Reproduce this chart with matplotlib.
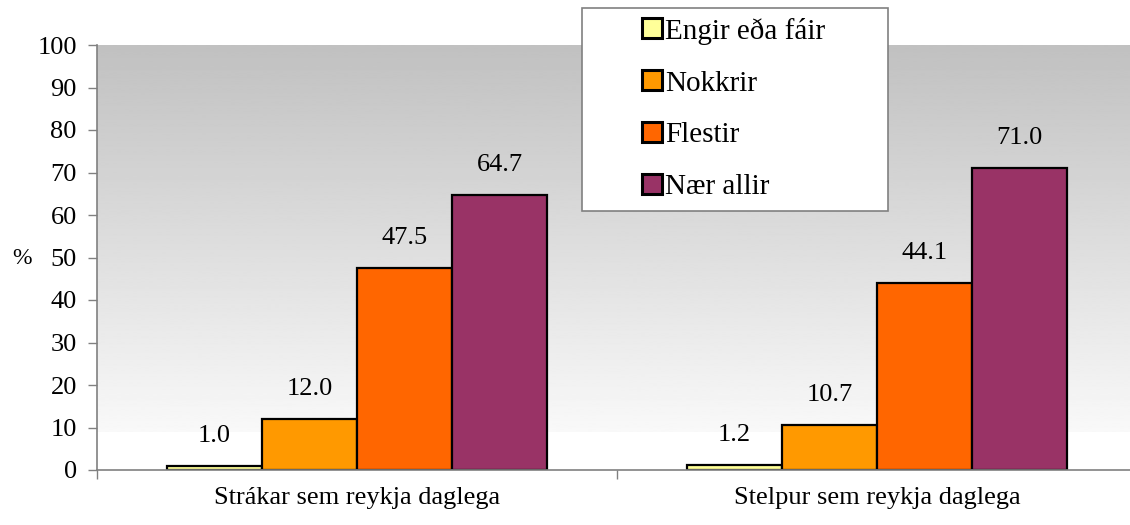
import matplotlib
matplotlib.use("Agg")
import matplotlib.pyplot as plt
import numpy as np
from matplotlib.patches import Rectangle

categories = ["Strákar sem reykja daglega", "Stelpur sem reykja daglega"]
series_names = ["Engir eða fáir", "Nokkrir", "Flestir", "Nær allir"]
values = {
    "Engir eða fáir": [1.0, 1.2],
    "Nokkrir": [12.0, 10.7],
    "Flestir": [47.5, 44.1],
    "Nær allir": [64.7, 71.0],
}
colors = ["#FFFF99", "#FF9900", "#FF6600", "#993366"]
yticks = list(range(0, 101, 10))

plt.rcParams['font.family'] = ['Liberation Serif', 'DejaVu Serif']

W, H = 1130, 525
fig = plt.figure(figsize=(W / 100, H / 100), dpi=100)
ax = fig.add_axes([97 / W, (H - 470) / H, (1137 - 97) / W, 425 / H])

# gradient background
grad = np.linspace(0.975, 0.755, 256).reshape(-1, 1)
ax.imshow(grad, extent=[-0.5, 1.5, 9, 100], origin='lower', aspect='auto',
          cmap='gray', vmin=0, vmax=1, zorder=0, interpolation='bilinear')

x = np.arange(len(categories))
bw = 95 / 520
n = len(series_names)
for i, (name, c) in enumerate(zip(series_names, colors)):
    offs = (i - (n - 1) / 2) * bw
    vals = values[name]
    ax.bar(x + offs, vals, width=bw, color=c, edgecolor='black',
           linewidth=1.6, label=name, zorder=2)
    for xi, v in zip(x + offs, vals):
        ax.annotate(f"{v:.1f}", (xi, v), xytext=(0, 21.5), textcoords='offset points',
                    ha='center', va='center', fontsize=19, color='black')

ax.set_xlim(-0.5, 1.5)
ax.set_ylim(0, 100)
ax.set_yticks(yticks)
ax.set_yticklabels([str(t) for t in yticks], fontsize=19)
ax.tick_params(axis='y', direction='out', length=6.5, width=1, color='#808080', pad=8)

ax.set_xticks([-0.5, 0.5, 1.5])
ax.set_xticklabels([])
ax.tick_params(axis='x', which='major', direction='out', length=6.5, width=1, color='#808080')
ax.set_xticks(x, minor=True)
ax.set_xticklabels(categories, minor=True, fontsize=19)
ax.tick_params(axis='x', which='minor', length=0, pad=12)

for s in ['top', 'right']:
    ax.spines[s].set_visible(False)
for s in ['left', 'bottom']:
    ax.spines[s].set_color('#808080')
    ax.spines[s].set_linewidth(1.2)

fig.text(22 / W, (H - 258) / H, "%", fontsize=17, ha='center', va='center')

# legend frame
frame = Rectangle((582 / W, (H - 211) / H), 306 / W, 203 / H, transform=fig.transFigure,
                  facecolor='white', edgecolor='#808080', linewidth=1.2, zorder=5)
fig.patches.append(frame)
handles, labels = ax.get_legend_handles_labels()
leg = fig.legend(handles, labels, loc='center left',
                 bbox_to_anchor=(642 / W, (H - 109) / H), frameon=False,
                 fontsize=21, borderpad=0, handlelength=0.68, handleheight=0.68,
                 handletextpad=0.1, labelspacing=0.88, borderaxespad=0)
for h in leg.legend_handles:
    h.set_linewidth(2.2)
leg.set_zorder(6)

fig.savefig("out.png", dpi=100)
